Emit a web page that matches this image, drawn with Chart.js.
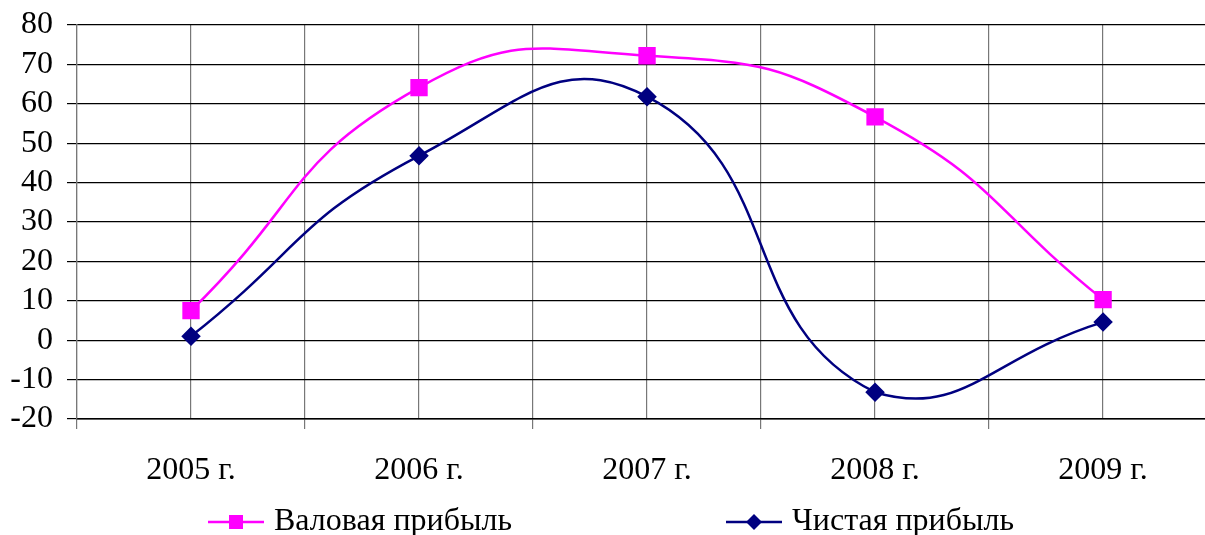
<!DOCTYPE html>
<html>
<head>
<meta charset="utf-8">
<script src="https://cdn.jsdelivr.net/npm/chart.js@4"></script>
<style>
  html, body { margin: 0; padding: 0; background: #fff; overflow: hidden; }
  #wrap { width: 1205px; height: 535px; }
</style>
</head>
<body>
<div id="wrap"><canvas id="profit"></canvas></div>
<script>
// Data
const years = ['2005 г.', '2006 г.', '2007 г.', '2008 г.', '2009 г.'];
const grossProfit = [7.5, 64.1, 72.2, 56.7, 10.3];
const netProfit = [1.0, 46.8, 61.8, -13.2, 4.6];
const yTicks = [-20, -10, 0, 10, 20, 30, 40, 50, 60, 70, 80];

const serif = '"Liberation Serif", "Times New Roman", serif';
const fontSize = 32;
const boxW = 264;   // legend box width, the icon sits at its right end

// legend marker: short line with the point on it, ending a little past the box
function legendIcon(color, shape) {
    const c = document.createElement('canvas');
    c.width = boxW + 12; c.height = 18;
    const g = c.getContext('2d');
    const end = boxW + 12, start = end - 56, mid = (start + end) / 2;
    g.strokeStyle = color;
    g.lineWidth = 2.5;
    g.beginPath(); g.moveTo(start, 9); g.lineTo(end, 9); g.stroke();
    g.fillStyle = color;
    if (shape === 'rect') {
        g.fillRect(mid - 7, 2, 14, 14);
    } else {
        g.beginPath();
        g.moveTo(mid, 1); g.lineTo(mid + 8, 9); g.lineTo(mid, 17); g.lineTo(mid - 8, 9);
        g.closePath(); g.fill();
    }
    return c;
}

const toPoints = arr => arr.map((v, i) => ({ x: i, y: v }));

const ctx = document.getElementById('profit').getContext('2d');
new Chart(ctx, {
    type: 'line',
    data: {
        datasets: [
            {
                label: 'Валовая прибыль',
                data: toPoints(grossProfit),
                borderColor: '#ff00ff',
                backgroundColor: '#ff00ff',
                borderWidth: 2.5,
                pointStyle: 'rect',
                pointRadius: 10.5,
                pointHoverRadius: 10.5,
                tension: 0.5,
                legendIcon: legendIcon('#ff00ff', 'rect'),
            },
            {
                label: 'Чистая прибыль',
                data: toPoints(netProfit),
                borderColor: '#000080',
                backgroundColor: '#000080',
                borderWidth: 2.5,
                pointStyle: 'rectRot',
                pointRadius: 8,
                pointHoverRadius: 8,
                tension: 0.5,
                legendIcon: legendIcon('#000080', 'diamond'),
            },
        ]
    },
    options: {
        responsive: true,
        maintainAspectRatio: false,
        animation: false,
        layout: { autoPadding: false, padding: { top: 25, right: 0, left: -6, bottom: -13 } },
        scales: {
            x: {
                type: 'linear',
                min: -0.5,
                max: 4.447,
                afterBuildTicks: scale => {
                    const t = [];
                    for (let i = 0; i <= years.length * 2 - 1; i++) t.push({ value: -0.5 + i * 0.5 });
                    scale.ticks = t;
                },
                afterFit: scale => { scale.height = 87; },
                grid: {
                    color: '#777',
                    lineWidth: 1.2,
                    tickLength: 10,
                    tickColor: c => Number.isInteger(c.tick.value) ? 'rgba(0,0,0,0)' : '#777',
                },
                border: { color: '#000', width: 1.5 },
                ticks: {
                    autoSkip: false,
                    maxRotation: 0,
                    padding: 22,
                    color: '#000',
                    font: { family: serif, size: fontSize },
                    callback: v => Number.isInteger(v) ? years[v] : '',
                },
            },
            y: {
                min: -20,
                max: 80,
                afterBuildTicks: scale => { scale.ticks = yTicks.map(v => ({ value: v })); },
                afterFit: scale => {
                    scale.width = 83;
                    scale.paddingTop = 0;
                    scale.paddingBottom = 0;
                },
                grid: { color: '#000', lineWidth: 1.2, tickLength: 10, tickColor: '#000' },
                border: { color: '#777', width: 1.2 },
                ticks: {
                    autoSkip: false,
                    padding: 14,
                    color: '#000',
                    font: { family: serif, size: fontSize },
                },
            },
        },
        plugins: {
            tooltip: { enabled: false },
            legend: {
                position: 'bottom',
                align: 'start',
                labels: {
                    usePointStyle: true,
                    pointStyleWidth: boxW,
                    padding: 0,
                    color: '#000',
                    font: { family: serif, size: fontSize },
                    generateLabels: chart => chart.data.datasets.map((ds, i) => ({
                        text: ds.label,
                        pointStyle: ds.legendIcon,
                        fillStyle: ds.borderColor,
                        strokeStyle: ds.borderColor,
                        lineWidth: 0,
                        datasetIndex: i,
                        fontColor: '#000',
                    })),
                },
            },
        },
    },
});
</script>
</body>
</html>
